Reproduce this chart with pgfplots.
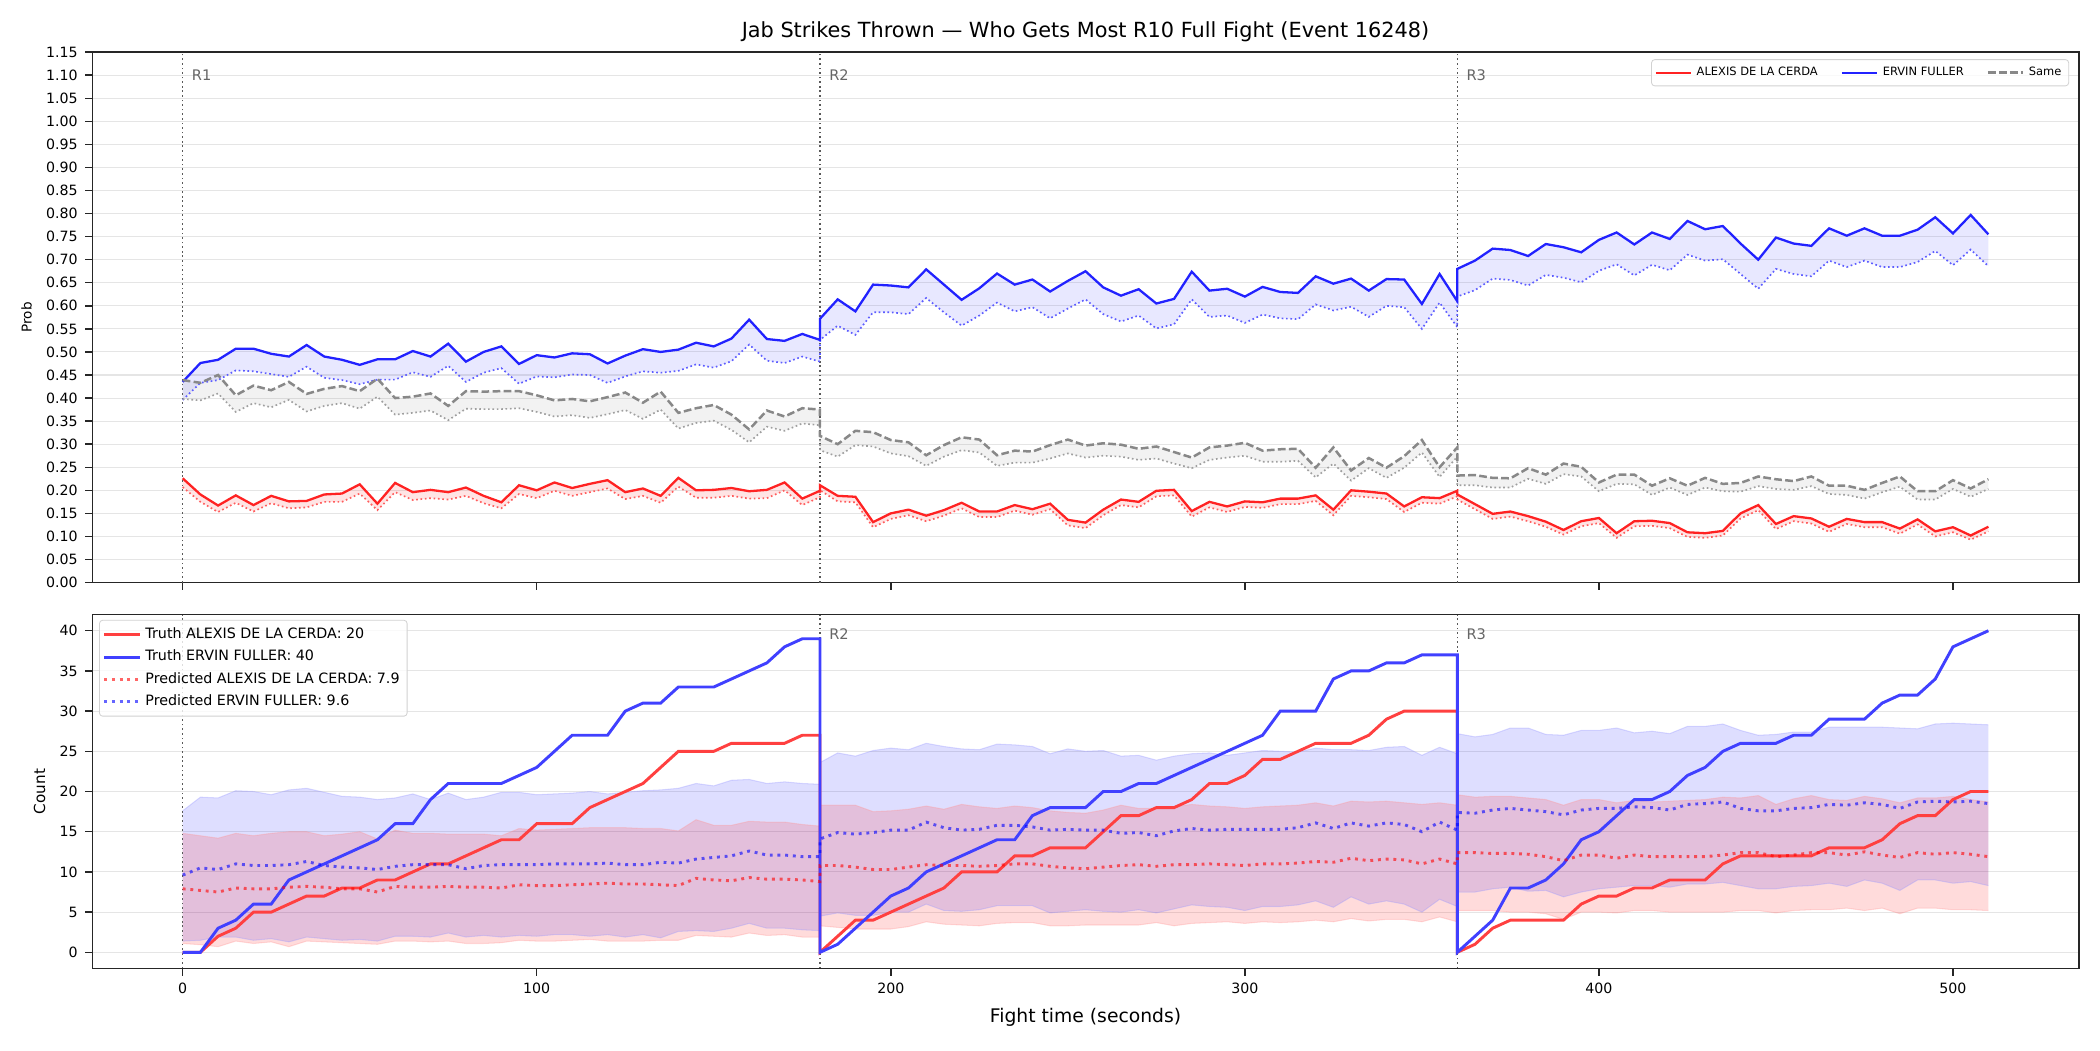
\documentclass[border=0pt]{standalone}
\usepackage{fontspec}
\setmainfont{DejaVu Sans}
\usepackage{pgfplots}
\usepackage{pgfplotstable}
\pgfplotsset{compat=1.18}
\usepgfplotslibrary{fillbetween}

\definecolor{cred}{RGB}{255,34,34}
\definecolor{cblue}{RGB}{34,34,255}
\definecolor{cgray}{RGB}{136,136,136}
\definecolor{tred}{RGB}{255,64,64}
\definecolor{tblue}{RGB}{64,64,255}
\definecolor{gridc}{RGB}{229,229,229}
\definecolor{rlab}{RGB}{102,102,102}

\pgfplotstableread{
t b bl s sl r rl
0 0.435 0.396 0.439 0.398 0.226 0.207
5 0.476 0.433 0.433 0.395 0.191 0.175
10 0.483 0.439 0.450 0.410 0.167 0.153
15 0.507 0.460 0.406 0.370 0.189 0.173
20 0.507 0.458 0.427 0.389 0.168 0.154
25 0.496 0.452 0.417 0.380 0.188 0.172
30 0.490 0.446 0.435 0.396 0.176 0.161
35 0.515 0.468 0.409 0.371 0.177 0.163
40 0.490 0.444 0.420 0.383 0.191 0.175
45 0.483 0.439 0.426 0.389 0.193 0.175
50 0.472 0.430 0.415 0.377 0.213 0.193
55 0.484 0.440 0.442 0.403 0.171 0.157
60 0.484 0.440 0.400 0.364 0.216 0.196
65 0.502 0.456 0.403 0.368 0.196 0.179
70 0.490 0.446 0.410 0.373 0.201 0.183
75 0.518 0.470 0.383 0.352 0.196 0.180
80 0.479 0.435 0.415 0.377 0.206 0.188
85 0.500 0.455 0.414 0.376 0.188 0.172
90 0.512 0.465 0.415 0.376 0.174 0.161
95 0.474 0.431 0.415 0.378 0.211 0.192
100 0.493 0.447 0.406 0.370 0.200 0.183
105 0.488 0.445 0.395 0.360 0.217 0.199
110 0.497 0.451 0.398 0.363 0.205 0.188
115 0.495 0.450 0.393 0.357 0.214 0.196
120 0.475 0.433 0.402 0.365 0.222 0.204
125 0.492 0.447 0.412 0.374 0.196 0.181
130 0.506 0.458 0.390 0.355 0.204 0.188
135 0.500 0.455 0.414 0.375 0.188 0.173
140 0.505 0.459 0.368 0.334 0.227 0.208
145 0.520 0.473 0.378 0.346 0.200 0.184
150 0.512 0.466 0.385 0.351 0.201 0.184
155 0.529 0.480 0.364 0.331 0.205 0.188
160 0.570 0.516 0.332 0.304 0.198 0.182
165 0.528 0.481 0.373 0.338 0.201 0.183
170 0.524 0.476 0.360 0.329 0.217 0.200
175 0.539 0.490 0.378 0.345 0.182 0.168
180 0.526 0.479 0.375 0.341 0.199 0.185
180 0.572 0.526 0.318 0.287 0.211 0.200
185 0.614 0.557 0.300 0.273 0.188 0.176
190 0.588 0.537 0.329 0.298 0.186 0.174
195 0.646 0.586 0.326 0.295 0.131 0.120
200 0.644 0.586 0.309 0.280 0.150 0.138
205 0.640 0.582 0.304 0.274 0.158 0.146
210 0.679 0.617 0.276 0.253 0.145 0.133
215 0.646 0.586 0.298 0.273 0.157 0.145
220 0.613 0.557 0.315 0.287 0.173 0.161
225 0.638 0.579 0.310 0.282 0.154 0.142
230 0.670 0.607 0.276 0.253 0.154 0.142
235 0.646 0.588 0.286 0.260 0.168 0.156
240 0.657 0.597 0.284 0.260 0.159 0.147
245 0.631 0.573 0.298 0.269 0.171 0.159
250 0.654 0.594 0.310 0.280 0.136 0.124
255 0.675 0.614 0.297 0.271 0.130 0.118
260 0.640 0.582 0.302 0.275 0.158 0.146
265 0.622 0.566 0.299 0.273 0.180 0.168
270 0.636 0.579 0.290 0.266 0.175 0.163
275 0.605 0.551 0.295 0.269 0.199 0.187
280 0.615 0.560 0.283 0.258 0.201 0.189
285 0.674 0.614 0.271 0.248 0.155 0.143
290 0.633 0.576 0.293 0.266 0.175 0.163
295 0.637 0.579 0.297 0.271 0.165 0.153
300 0.620 0.563 0.303 0.275 0.176 0.164
305 0.641 0.581 0.286 0.262 0.174 0.162
310 0.630 0.573 0.289 0.262 0.182 0.170
315 0.628 0.571 0.290 0.264 0.182 0.170
320 0.664 0.603 0.249 0.228 0.189 0.177
325 0.648 0.590 0.293 0.258 0.158 0.146
330 0.659 0.598 0.243 0.221 0.200 0.188
335 0.633 0.576 0.270 0.248 0.197 0.185
340 0.658 0.600 0.249 0.227 0.193 0.181
345 0.657 0.597 0.274 0.249 0.165 0.153
350 0.604 0.550 0.309 0.282 0.185 0.173
355 0.669 0.607 0.250 0.229 0.183 0.171
360 0.610 0.554 0.293 0.273 0.199 0.187
360 0.680 0.620 0.232 0.211 0.191 0.180
365 0.698 0.634 0.233 0.211 0.170 0.159
370 0.724 0.659 0.227 0.206 0.149 0.138
375 0.721 0.656 0.226 0.206 0.154 0.143
380 0.708 0.644 0.248 0.225 0.144 0.133
385 0.734 0.667 0.234 0.214 0.132 0.121
390 0.727 0.661 0.258 0.235 0.114 0.104
395 0.716 0.651 0.251 0.230 0.133 0.122
400 0.743 0.676 0.217 0.198 0.140 0.129
405 0.759 0.690 0.234 0.214 0.107 0.097
410 0.733 0.666 0.234 0.213 0.133 0.122
415 0.759 0.689 0.210 0.190 0.134 0.123
420 0.745 0.677 0.226 0.206 0.129 0.118
425 0.784 0.711 0.210 0.190 0.109 0.099
430 0.766 0.698 0.227 0.206 0.107 0.097
435 0.773 0.701 0.214 0.198 0.112 0.102
440 0.735 0.669 0.216 0.197 0.150 0.139
445 0.700 0.637 0.230 0.209 0.168 0.157
450 0.748 0.680 0.224 0.203 0.127 0.116
455 0.735 0.669 0.220 0.201 0.144 0.133
460 0.730 0.664 0.230 0.209 0.139 0.128
465 0.768 0.698 0.210 0.192 0.121 0.110
470 0.752 0.684 0.210 0.190 0.138 0.127
475 0.768 0.698 0.201 0.182 0.131 0.120
480 0.752 0.684 0.216 0.196 0.131 0.120
485 0.752 0.684 0.230 0.208 0.117 0.106
490 0.765 0.695 0.198 0.180 0.137 0.126
495 0.792 0.719 0.198 0.180 0.111 0.100
500 0.757 0.688 0.222 0.203 0.120 0.109
505 0.797 0.722 0.204 0.186 0.102 0.093
510 0.755 0.686 0.224 0.203 0.121 0.111
}\toptab

\pgfplotstableread{
t rt bt rp bp rlo rhi blo bhi
0 0 0 7.9 9.6 1.1 14.8 1.4 17.6
5 0 0 7.7 10.5 0.95 14.5 1.5 19.3
10 2 3 7.5 10.3 0.7 14.2 1.9 19.2
15 3 4 8.0 11.0 1.4 14.8 1.9 20.1
20 5 6 7.9 10.8 1.1 14.5 1.5 20.0
25 5 6 7.9 10.8 1.3 14.8 1.7 19.6
30 6 9 8.1 10.9 0.7 15.0 1.3 20.2
35 7 10 8.2 11.3 1.4 15.0 1.9 20.4
40 7 11 8.1 10.8 1.3 14.5 1.7 19.9
45 8 12 7.9 10.6 1.2 14.7 1.5 19.4
50 8 13 7.9 10.5 1.1 15.0 1.6 19.3
55 9 14 7.5 10.3 1.0 14.1 1.4 19.0
60 9 16 8.2 10.7 1.4 15.2 2.0 19.2
65 10 16 8.1 10.9 1.4 14.8 2.0 19.7
70 11 19 8.1 10.9 1.3 14.8 1.9 19.0
75 11 21 8.2 10.9 1.4 14.7 2.4 19.8
80 12 21 8.1 10.4 1.1 14.7 1.9 19.0
85 13 21 8.1 10.8 1.1 14.7 2.1 19.3
90 14 21 8.0 10.9 1.2 14.5 1.9 19.9
95 14 22 8.4 10.9 1.5 15.4 2.1 19.9
100 16 23 8.3 10.9 1.4 15.2 2.0 19.6
105 16 25 8.3 11.0 1.4 15.3 2.2 19.7
110 16 27 8.4 11.0 1.5 15.4 2.2 19.8
115 18 27 8.5 11.0 1.6 15.5 2.0 20.0
120 19 27 8.6 11.1 1.4 15.5 2.2 19.7
125 20 30 8.5 10.9 1.4 15.5 1.9 19.9
130 21 31 8.5 10.9 1.4 15.4 2.2 20.1
135 23 31 8.4 11.2 1.5 15.4 1.8 20.2
140 25 33 8.3 11.1 1.5 15.1 2.6 20.4
145 25 33 9.2 11.6 2.1 16.5 2.7 21.0
150 25 33 9.0 11.8 2.0 15.8 2.6 20.7
155 26 34 8.9 12.0 1.9 15.8 3.0 21.4
160 26 35 9.3 12.6 2.4 16.3 3.6 21.5
165 26 36 9.1 12.1 2.1 16.2 3.0 21.0
170 26 38 9.1 12.1 2.2 16.2 3.0 21.2
175 27 39 9.0 11.9 1.9 15.9 2.8 21.0
180 27 39 8.8 11.9 1.9 15.7 2.7 20.9
180 0 0 10.8 14.1 3.3 18.3 4.5 23.6
185 2 1 10.8 14.9 3.1 18.3 4.9 24.8
190 4 3 10.6 14.7 2.9 18.3 4.6 24.4
195 4 5 10.3 14.9 2.9 17.5 4.6 25.1
200 5 7 10.3 15.2 2.9 17.6 5.0 25.4
205 6 8 10.6 15.2 3.2 17.8 5.0 25.2
210 7 10 10.9 16.2 3.8 18.2 6.0 26.0
215 8 11 10.8 15.5 3.5 17.8 5.2 25.6
220 10 12 10.8 15.2 3.4 18.4 5.1 25.3
225 10 13 10.7 15.3 3.3 18.1 5.3 25.2
230 10 14 10.8 15.8 3.6 17.9 5.8 25.9
235 12 14 11.0 15.8 3.7 18.2 5.8 25.8
240 12 17 11.0 15.6 3.7 18.0 5.8 25.6
245 13 18 10.7 15.2 3.3 17.6 4.9 24.7
250 13 18 10.5 15.3 3.3 17.4 5.1 25.3
255 13 18 10.4 15.2 3.4 17.3 5.3 25.0
260 15 20 10.6 15.2 3.4 17.7 5.1 25.1
265 17 20 10.8 14.8 3.4 18.3 5.0 24.4
270 17 21 10.9 14.9 3.4 17.9 5.3 24.5
275 18 21 10.7 14.5 3.7 17.9 4.9 23.9
280 18 22 10.9 15.1 3.3 18.1 5.4 24.4
285 19 23 10.9 15.4 3.6 18.4 5.9 24.7
290 21 24 11.0 15.2 3.7 18.2 5.7 24.8
295 21 25 10.9 15.3 3.8 18.1 5.6 24.5
300 22 26 10.8 15.3 3.6 17.9 5.2 24.8
305 24 27 11.0 15.3 3.8 18.1 5.7 25.1
310 24 30 11.0 15.3 3.7 18.2 5.7 25.0
315 25 30 11.1 15.5 3.8 18.3 5.9 24.9
320 26 30 11.3 16.1 4.0 18.6 6.4 25.4
325 26 34 11.2 15.4 3.8 18.2 5.6 25.2
330 26 35 11.7 16.1 4.2 18.8 6.9 25.2
335 27 35 11.4 15.7 3.9 18.7 6.0 25.1
340 29 36 11.6 16.1 4.1 18.8 6.4 25.5
345 30 36 11.5 15.9 4.1 18.6 6.0 25.6
350 30 37 11.0 15.0 3.8 18.4 5.0 24.5
355 30 37 11.6 16.2 4.4 18.6 6.6 25.5
360 30 37 11.0 15.2 3.8 18.3 5.7 24.7
360 0 0 12.4 17.4 5.2 19.6 7.5 27.2
365 1 2 12.4 17.3 5.2 19.3 7.5 26.8
370 3 4 12.3 17.7 5.2 19.4 7.9 27.1
375 4 8 12.3 17.9 5.0 19.4 8.1 27.9
380 4 8 12.2 17.7 5.0 19.2 7.6 27.9
385 4 9 11.9 17.5 4.8 19.0 7.7 27.1
390 4 11 11.4 17.1 4.1 18.3 6.9 27.0
395 6 14 12.1 17.7 5.0 19.0 7.5 27.6
400 7 15 12.1 17.9 5.0 19.0 7.9 27.6
405 7 17 11.7 17.9 4.9 18.6 8.1 27.9
410 8 19 12.1 18.1 5.2 18.9 8.3 27.3
415 8 19 11.9 18.0 5.2 18.7 8.3 27.5
420 9 20 11.9 17.7 5.0 18.8 8.1 27.2
425 9 22 11.9 18.4 5.0 18.9 8.5 28.1
430 9 23 11.9 18.5 5.0 19.0 8.5 28.1
435 11 25 12.1 18.7 5.0 19.3 8.7 28.4
440 12 26 12.4 17.9 5.2 19.2 8.3 27.6
445 12 26 12.4 17.6 5.2 19.5 7.9 27.0
450 12 26 11.9 17.6 4.9 18.4 7.9 27.1
455 12 27 12.1 17.9 5.2 19.1 8.2 27.4
460 12 27 12.4 18.0 5.3 19.5 8.3 27.4
465 13 29 12.4 18.4 5.3 19.0 8.6 28.0
470 13 29 12.1 18.3 5.5 18.9 8.2 28.0
475 13 29 12.5 18.6 5.2 19.4 9.0 28.0
480 14 31 12.1 18.4 5.5 19.1 8.6 28.0
485 16 32 11.8 17.9 4.8 18.6 7.7 27.9
490 17 32 12.4 18.7 5.5 19.2 9.0 27.8
495 17 34 12.2 18.8 5.5 19.2 9.0 28.4
500 19 38 12.4 18.7 5.3 19.4 8.6 28.5
505 20 39 12.2 18.8 5.3 19.0 8.8 28.4
510 20 40 11.9 18.5 5.2 18.7 8.3 28.3
}\bottab

\begin{document}
\begin{tikzpicture}
\pgfplotsset{
  base/.style={
    scale only axis, width=953.4pt,
    xmin=-25.5, xmax=535.5,
    xtick={0,100,200,300,400,500},
    tick align=outside, tick pos=left,
    ymajorgrids, grid style={gridc, line width=0.5pt},
    axis line style={line width=0.8pt, black!85},
    major tick length=3.5pt,
    every tick/.style={black!85, line width=0.7pt},
    tick label style={font=\fontsize{6.8}{8}\selectfont},
    /pgf/number format/assume math mode=true,
    legend cell align=left,
  },
  rline/.style={black!65, line width=0.6pt, dash pattern=on 0.8pt off 1.4pt, forget plot},
}

% ---------------- TOP PANEL ----------------
\begin{axis}[base, at={(0,185.2pt)}, anchor=south west, height=254.6pt,
  ymin=0, ymax=1.15,
  ytick={0,0.05,0.1,0.15,0.2,0.25,0.3,0.35,0.4,0.45,0.5,0.55,0.6,0.65,0.7,0.75,0.8,0.85,0.9,0.95,1,1.05,1.1,1.15},
  yticklabel style={/pgf/number format/.cd, fixed, fixed zerofill, precision=2},
  xticklabels={},
  ylabel={Prob}, ylabel style={font=\fontsize{6.5}{8}\selectfont},
  title={Jab Strikes Thrown — Who Gets Most R10 Full Fight (Event 16248)},
  title style={font=\fontsize{10}{12}\selectfont, yshift=-4.5pt},
  legend columns=3,
  legend style={at={(1,1)}, anchor=north east, xshift=-4.6pt, yshift=-3.4pt,
    font=\fontsize{5.5}{6.5}\selectfont, draw=gray!35, rounded corners=1.5pt,
    fill=white, fill opacity=0.8, text opacity=1, inner sep=1.5pt,
    /tikz/every even column/.append style={column sep=9pt}},
]
\addplot[name path=bA, draw=none, forget plot] table[x=t,y=b]{\toptab};
\addplot[name path=bB, draw=none, forget plot] table[x=t,y=bl]{\toptab};
\addplot[cblue, fill opacity=0.1, forget plot] fill between[of=bA and bB];
\addplot[name path=sA, draw=none, forget plot] table[x=t,y=s]{\toptab};
\addplot[name path=sB, draw=none, forget plot] table[x=t,y=sl]{\toptab};
\addplot[gray, fill opacity=0.1, forget plot] fill between[of=sA and sB];
\addplot[name path=rA, draw=none, forget plot] table[x=t,y=r]{\toptab};
\addplot[name path=rB, draw=none, forget plot] table[x=t,y=rl]{\toptab};
\addplot[cred, fill opacity=0.12, forget plot] fill between[of=rA and rB];

\addplot[rline] coordinates {(0,0) (0,1.15)};
\addplot[rline] coordinates {(180,0) (180,1.15)};
\addplot[rline] coordinates {(360,0) (360,1.15)};

\addplot[tblue!85, line width=0.8pt, dash pattern=on 0.8pt off 1.3pt, forget plot] table[x=t,y=bl]{\toptab};
\addplot[gray!75, line width=0.8pt, dash pattern=on 0.8pt off 1.3pt, forget plot] table[x=t,y=sl]{\toptab};
\addplot[tred!85, line width=0.8pt, dash pattern=on 0.8pt off 1.3pt, forget plot] table[x=t,y=rl]{\toptab};

\addplot[cred, line width=1.1pt] table[x=t,y=r]{\toptab};
\addlegendentry{ALEXIS DE LA CERDA}
\addplot[cblue, line width=1.1pt] table[x=t,y=b]{\toptab};
\addlegendentry{ERVIN FULLER}
\addplot[cgray, line width=1.2pt, dash pattern=on 3.7pt off 1.6pt] table[x=t,y=s]{\toptab};
\addlegendentry{Same}

\node[anchor=west, inner sep=0, text=rlab, font=\fontsize{7}{8}\selectfont] at (axis cs:2.5,1.10) {R1};
\node[anchor=west, inner sep=0, text=rlab, font=\fontsize{7}{8}\selectfont] at (axis cs:182.5,1.10) {R2};
\node[anchor=west, inner sep=0, text=rlab, font=\fontsize{7}{8}\selectfont] at (axis cs:362.5,1.10) {R3};
\end{axis}

% ---------------- BOTTOM PANEL ----------------
\begin{axis}[base, at={(0,0)}, anchor=south west, height=169.8pt,
  ymin=-2, ymax=42,
  ytick={0,5,10,15,20,25,30,35,40},
  xlabel={Fight time (seconds)}, xlabel style={font=\fontsize{9}{11}\selectfont},
  ylabel={Count}, ylabel style={font=\fontsize{7.3}{9}\selectfont},
  legend style={at={(0,1)}, anchor=north west, xshift=3.2pt, yshift=-2.5pt,
    font=\fontsize{6.85}{7.8}\selectfont, draw=gray!35, rounded corners=1.5pt,
    fill=white, fill opacity=0.8, text opacity=1, inner sep=1.6pt},
]
\addplot[name path=BH, draw=none, forget plot] table[x=t,y=bhi]{\bottab};
\addplot[name path=BL, draw=none, forget plot] table[x=t,y=blo]{\bottab};
\addplot[blue, fill opacity=0.13, forget plot] fill between[of=BH and BL];
\addplot[blue!40, line width=0.5pt, opacity=0.35, forget plot] table[x=t,y=bhi]{\bottab};
\addplot[blue!40, line width=0.5pt, opacity=0.35, forget plot] table[x=t,y=blo]{\bottab};
\addplot[name path=RH, draw=none, forget plot] table[x=t,y=rhi]{\bottab};
\addplot[name path=RL, draw=none, forget plot] table[x=t,y=rlo]{\bottab};
\addplot[red, fill opacity=0.14, forget plot] fill between[of=RH and RL];
\addplot[red!40, line width=0.5pt, opacity=0.35, forget plot] table[x=t,y=rhi]{\bottab};
\addplot[red!40, line width=0.5pt, opacity=0.35, forget plot] table[x=t,y=rlo]{\bottab};

\addplot[rline] coordinates {(0,-2) (0,42)};
\addplot[rline] coordinates {(180,-2) (180,42)};
\addplot[rline] coordinates {(360,-2) (360,42)};
\node[anchor=west, inner sep=0, text=rlab, font=\fontsize{7}{8}\selectfont] at (axis cs:2.5,39.6) {R1};
\node[anchor=west, inner sep=0, text=rlab, font=\fontsize{7}{8}\selectfont] at (axis cs:182.5,39.6) {R2};
\node[anchor=west, inner sep=0, text=rlab, font=\fontsize{7}{8}\selectfont] at (axis cs:362.5,39.6) {R3};

\addplot[tred, line width=1.4pt] table[x=t,y=rt]{\bottab};
\addlegendentry{Truth ALEXIS DE LA CERDA: 20}
\addplot[tblue, line width=1.4pt] table[x=t,y=bt]{\bottab};
\addlegendentry{Truth ERVIN FULLER: 40}
\addplot[red, opacity=0.6, line width=1.4pt, dash pattern=on 1.4pt off 2.3pt] table[x=t,y=rp]{\bottab};
\addlegendentry{Predicted ALEXIS DE LA CERDA: 7.9}
\addplot[blue, opacity=0.6, line width=1.4pt, dash pattern=on 1.4pt off 2.3pt] table[x=t,y=bp]{\bottab};
\addlegendentry{Predicted ERVIN FULLER: 9.6}
\end{axis}
\pgfresetboundingbox
\path[use as bounding box] (-44.35pt,-39.17pt) rectangle (963.65pt,464.83pt);
\end{tikzpicture}
\end{document}
